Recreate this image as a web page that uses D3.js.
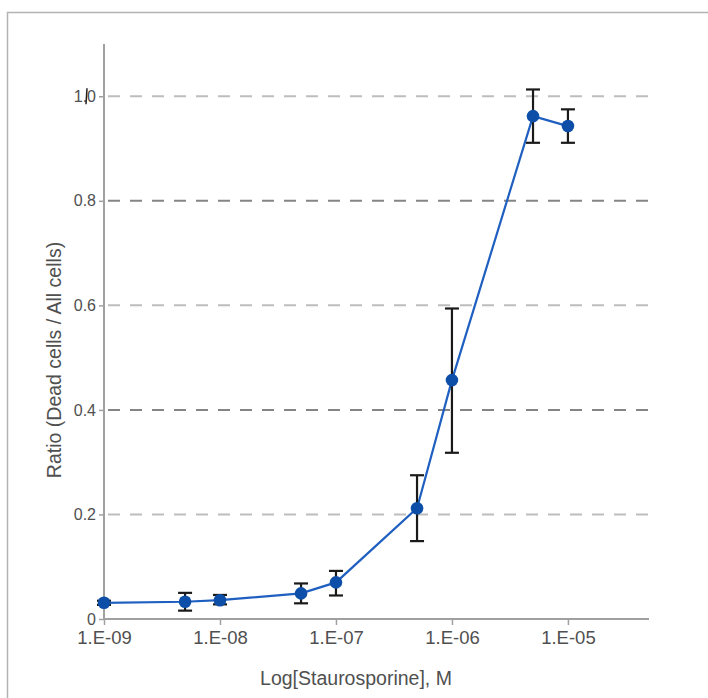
<!DOCTYPE html>
<html>
<head>
<meta charset="utf-8">
<script src="https://cdn.jsdelivr.net/npm/d3@7"></script>
<style>
  html, body { margin: 0; padding: 0; background: #fff; }
  svg { display: block; font-family: "Liberation Sans", Arial, Helvetica, sans-serif; }
</style>
</head>
<body>
<svg id="chart" width="708" height="698"></svg>
<script>
// Staurosporine dose-response: fraction of dead cells
const concentrations = [1e-9, 5e-9, 1e-8, 5e-8, 1e-7, 5e-7, 1e-6, 5e-6, 1e-5];
const ratioMean      = [0.031, 0.033, 0.036, 0.049, 0.070, 0.212, 0.457, 0.962, 0.943];
const ratioLow       = [0.027, 0.016, 0.028, 0.030, 0.045, 0.149, 0.318, 0.911, 0.911];
const ratioHigh      = [0.035, 0.050, 0.046, 0.068, 0.092, 0.275, 0.594, 1.013, 0.975];
const xTickValues    = [1e-9, 1e-8, 1e-7, 1e-6, 1e-5];
const xTickLabels    = ["1.E-09", "1.E-08", "1.E-07", "1.E-06", "1.E-05"];
const yTickValues    = [0, 0.2, 0.4, 0.6, 0.8, 1.0];
const yTickLabels    = ["0", "0.2", "0.4", "0.6", "0.8", "1.0"];
const gridValues     = [0.2, 0.4, 0.6, 0.8, 1.0];

const data = concentrations.map((c, i) => ({
  c, y: ratioMean[i], lo: ratioLow[i], hi: ratioHigh[i]
}));

const svg = d3.select("#chart");

// outer frame
svg.append("path")
  .attr("d", "M7.5,712 V12.5 H720")
  .attr("fill", "none")
  .attr("stroke", "#b3b3b3")
  .attr("stroke-width", 1.5);

const x = d3.scaleLog().domain([1e-9, 5e-5]).range([104, 649]);
const y = d3.scaleLinear().domain([0, 1.1]).range([619, 44]);

const textColor = "#505050";
const axisColor = "#a0a0a0";

// dashed horizontal gridlines, alternating shades
svg.append("g").selectAll("line")
  .data(gridValues)
  .join("line")
  .attr("x1", x.range()[0])
  .attr("x2", 652)
  .attr("y1", d => y(d))
  .attr("y2", d => y(d))
  .attr("stroke", (d, i) => i % 2 === 0 ? "#bdbdbd" : "#858585")
  .attr("stroke-width", 2)
  .attr("stroke-dasharray", "12,10")
  .attr("stroke-dashoffset", -4);

// y axis
const yAxis = svg.append("g")
  .attr("transform", `translate(${x.range()[0]},0)`)
  .call(d3.axisLeft(y)
    .tickValues(yTickValues)
    .tickFormat((d, i) => yTickLabels[i])
    .tickSize(5)
    .tickPadding(3));
yAxis.select(".domain")
  .attr("d", `M0,${y.range()[1]}V${y.range()[0]}`)
  .attr("stroke", axisColor).attr("stroke-width", 2);
yAxis.selectAll(".tick line").attr("stroke", axisColor).attr("stroke-width", 1.5);
yAxis.selectAll(".tick text")
  .attr("fill", textColor)
  .style("font-size", "16px")
  .attr("font-family", null);

// small dark stroke sitting over the top tick label
svg.append("line")
  .attr("x1", 87).attr("x2", 86)
  .attr("y1", y(1.0) - 8).attr("y2", y(1.0) + 8)
  .attr("stroke", "#222")
  .attr("stroke-width", 1.5);

// x axis
const xAxis = svg.append("g")
  .attr("transform", `translate(0,${y(0)})`)
  .call(d3.axisBottom(x)
    .tickValues(xTickValues)
    .tickFormat((d, i) => xTickLabels[i])
    .tickSize(6)
    .tickPadding(6));
xAxis.select(".domain")
  .attr("d", `M${x.range()[0]},0H${x.range()[1]}`)
  .attr("stroke", axisColor).attr("stroke-width", 2);
xAxis.selectAll(".tick line").attr("stroke", axisColor).attr("stroke-width", 1.5);
xAxis.selectAll(".tick text")
  .attr("fill", textColor)
  .style("font-size", "18.5px")
  .attr("font-family", null);

// axis titles
svg.append("text")
  .attr("x", 356)
  .attr("y", 685)
  .attr("text-anchor", "middle")
  .attr("fill", textColor)
  .style("font-size", "19.5px")
  .text("Log[Staurosporine], M");

svg.append("text")
  .attr("transform", "translate(61,360) rotate(-90)")
  .attr("text-anchor", "middle")
  .attr("fill", textColor)
  .style("font-size", "19.5px")
  .text("Ratio (Dead cells / All cells)");

// connecting line
svg.append("path")
  .datum(data)
  .attr("fill", "none")
  .attr("stroke", "#1f5fc0")
  .attr("stroke-width", 2.2)
  .attr("d", d3.line().x(d => x(d.c)).y(d => y(d.y)));

// error bars
const capHalf = 7;
const err = svg.append("g")
  .attr("stroke", "#1a1a1a")
  .attr("stroke-width", 2.2);
err.selectAll("line.stem")
  .data(data).join("line").attr("class", "stem")
  .attr("x1", d => x(d.c)).attr("x2", d => x(d.c))
  .attr("y1", d => y(d.lo)).attr("y2", d => y(d.hi));
err.selectAll("line.capTop")
  .data(data).join("line").attr("class", "capTop")
  .attr("x1", d => x(d.c) - capHalf).attr("x2", d => x(d.c) + capHalf)
  .attr("y1", d => y(d.hi)).attr("y2", d => y(d.hi));
err.selectAll("line.capBottom")
  .data(data).join("line").attr("class", "capBottom")
  .attr("x1", d => x(d.c) - capHalf).attr("x2", d => x(d.c) + capHalf)
  .attr("y1", d => y(d.lo)).attr("y2", d => y(d.lo));

// markers
svg.append("g").selectAll("circle")
  .data(data).join("circle")
  .attr("cx", d => x(d.c))
  .attr("cy", d => y(d.y))
  .attr("r", 6.3)
  .attr("fill", "#0d4fa8");
</script>
</body>
</html>
